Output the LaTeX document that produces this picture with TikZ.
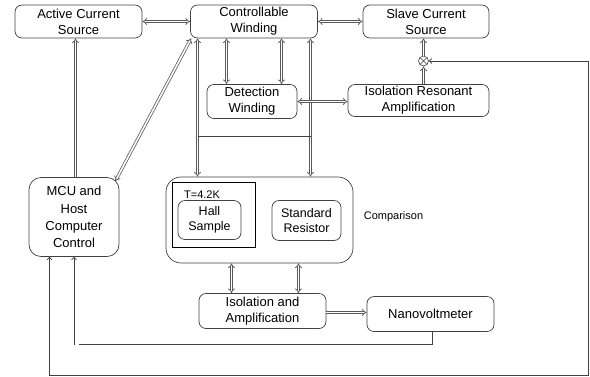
\documentclass[tikz,border=0pt]{standalone}
\usepackage{fontspec}
\setmainfont{Liberation Sans}
\usetikzlibrary{arrows.meta,calc}
\begin{document}
\begin{tikzpicture}[x=1pt,y=-1pt,
  box/.style={draw=black!75, line width=0.7pt, rounded corners=7pt, align=center, inner sep=0pt,
    font=\fontsize{13}{16}\selectfont},
  dbl/.style={draw=black!65, double=white, double distance=1.6pt, line width=0.75pt},
  dtip/.style={-{Implies[length=2.5pt]}},
  dtips/.style={{Implies[length=2.5pt]}-{Implies[length=2.5pt]}},
  sl/.style={draw=black!75, line width=0.7pt},
  stip/.style={-{Straight Barb[length=2.5pt,width=5pt]}}
]
\useasboundingbox (0,0) rectangle (590,376);
% nodes
\node[box, minimum width=127pt, minimum height=33pt] (act) at (78.5,21.5) {Active Current\\Source};
\node[box, minimum width=127pt, minimum height=33pt] (ctrl) at (254,21.5) {Controllable\\Winding};
\node[box, minimum width=126pt, minimum height=33pt] (slave) at (426,21.5) {Slave Current\\Source};
\node[box, minimum width=90pt, minimum height=34pt] (det) at (252,101.5) {Detection\\Winding};
\node[box, minimum width=141pt, minimum height=32pt] (isores) at (418.5,100.5) {Isolation Resonant\\Amplification};
\node[draw=black!75, line width=0.6pt, circle, minimum size=10pt, inner sep=0pt] (ot) at (423.5,61) {};
\draw[sl, line width=0.5pt] ($(ot.center)+(-3.4,-3.4)$) -- ($(ot.center)+(3.4,3.4)$)
  ($(ot.center)+(-3.4,3.4)$) -- ($(ot.center)+(3.4,-3.4)$);
\node[box, minimum width=90pt, minimum height=79pt, rounded corners=12pt, font=\fontsize{13}{17.3}\selectfont] (mcu) at (74,217) {MCU and\\Host\\Computer\\Control};
\node[draw=black!75, line width=0.7pt, rounded corners=15pt, minimum width=187pt, minimum height=86pt] (cmp) at (259.5,220) {};
\node[draw=black, line width=0.9pt, minimum width=83pt, minimum height=65pt] (tbox) at (213.5,214.5) {};
\node[font=\fontsize{11}{13}\selectfont, inner sep=0pt] (tlab) at (202,194.5) {T=4.2K};
\node[box, minimum width=63pt, minimum height=39pt, font=\fontsize{12.5}{15}\selectfont] (hall) at (209.5,220) {Hall\\Sample};
\node[box, minimum width=69pt, minimum height=40pt, font=\fontsize{12.5}{15}\selectfont] (std) at (306.5,220.5) {Standard\\Resistor};
\node[font=\fontsize{11}{13}\selectfont, inner sep=0pt] (cmplab) at (393.5,217) {Comparison};
\node[box, minimum width=127pt, minimum height=35pt] (isoamp) at (262.5,311) {Isolation and\\Amplification};
\node[box, minimum width=127pt, minimum height=35pt] (nano) at (430.5,314) {Nanovoltmeter};
% helper coordinates
\coordinate (xa) at (197.5,0);
\coordinate (xb) at (310.5,0);
\coordinate (xc) at (226.5,0);
\coordinate (xd) at (281.5,0);
\coordinate (xe) at (231.5,0);
\coordinate (xf) at (298.5,0);
\coordinate (xg) at (49.5,0);
\coordinate (hy) at (0,136.5);
\coordinate (lowy) at (0,375);
\coordinate (midy) at (0,344.5);
\coordinate (rx) at (588,0);
% double connectors
\draw[dbl, dtips] (act.east) -- (ctrl.west);
\draw[dbl, dtips] (ctrl.east) -- (slave.east -| slave.west);
\draw[dbl, dtip] (mcu.north -| act.south) ++(-3,0) coordinate (m1) -- (m1 |- act.south);
\draw[dbl, dtips] ($(mcu.north east)+(-4,4)$) -- ($(ctrl.south west)+(1,0)$);
\draw[dbl, dtips] (ctrl.south -| xa) -- (cmp.north -| xa);
\draw[dbl, dtips] (ctrl.south -| xb) -- (cmp.north -| xb);
\draw[sl] (hy -| xa) -- (hy -| xb);
\draw[dbl, dtips] (ctrl.south -| xc) -- (det.north -| xc);
\draw[dbl, dtips] (ctrl.south -| xd) -- (det.north -| xd);
\draw[dbl, dtips] (det.east) -- (det.east -| isores.west);
\draw[dbl, dtip] (ot.south |- isores.north) -- (ot.south);
\draw[dbl, dtip] (ot.north) -- (ot.north |- slave.south);
\draw[dbl, dtips] (cmp.south -| xe) -- (isoamp.north -| xe);
\draw[dbl, dtips] (cmp.south -| xf) -- (isoamp.north -| xf);
\draw[dbl, dtip] (isoamp.east |- 0,312.5) coordinate (ia) -- (ia -| nano.west);
% single connectors
\draw[sl, stip] (nano.south) ++(1.5,0) coordinate (n1) -- (n1 |- midy) -- (midy -| act.south) coordinate (n2) ++(-4.5,0) coordinate (n3) -- (n3 |- mcu.south);
\draw[sl, {Straight Barb[length=2.5pt,width=5pt]}-{Straight Barb[length=2.5pt,width=5pt]}] (mcu.south -| xg) -- (lowy -| xg) -- (lowy -| rx) -- (rx |- ot.east) -- (ot.east);
\end{tikzpicture}
\end{document}
